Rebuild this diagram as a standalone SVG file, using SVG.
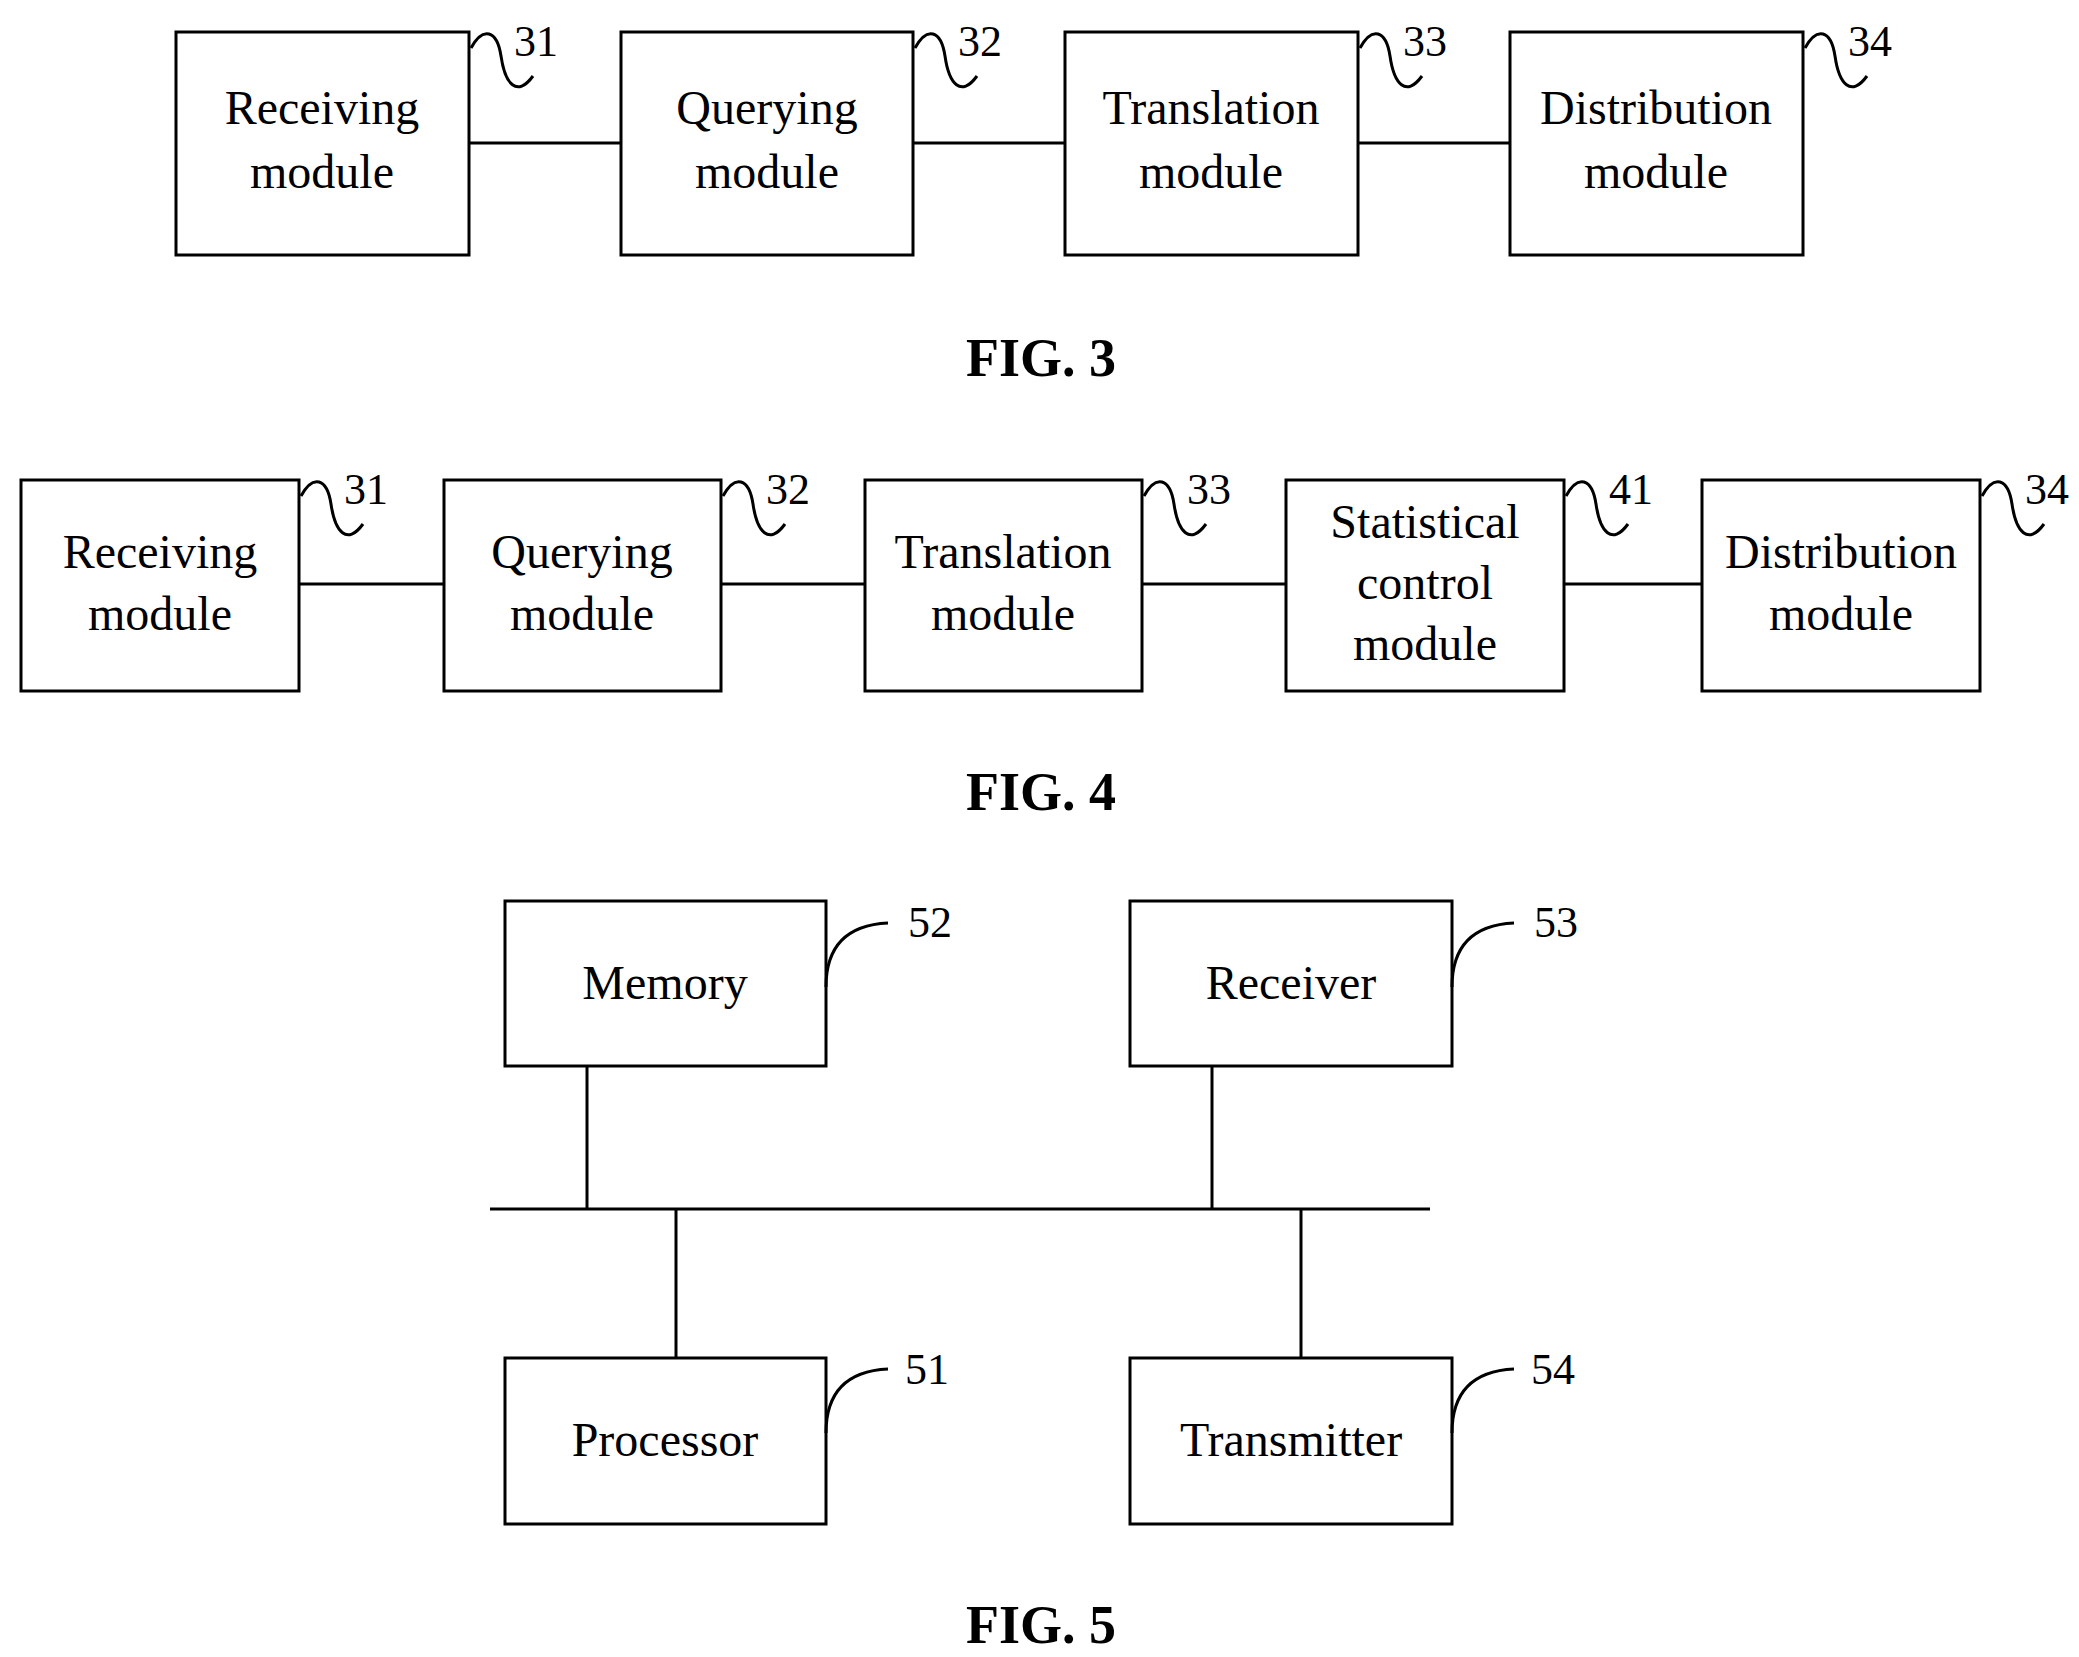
<svg xmlns="http://www.w3.org/2000/svg" width="2079" height="1657" viewBox="0 0 2079 1657">
<style>
rect{fill:#fff;stroke:#000;stroke-width:3}
path,line{fill:none;stroke:#000;stroke-width:3}
text{font-family:"Liberation Serif",serif;font-size:48px;text-anchor:middle;fill:#000}
.n{text-anchor:start;font-size:44px}
.f{font-weight:bold;font-size:54px}
</style>
<defs>
<path id="sq" d="M0,8 c12,-22 26,-18 30,8 c4,28 16,42 32,20"/>
<path id="cv" d="M0,66 c0,-40 20,-62 62,-64"/>
</defs>
<g id="connectors">
<line x1="469" y1="143" x2="621" y2="143"/><line x1="913" y1="143" x2="1065" y2="143"/><line x1="1358" y1="143" x2="1510" y2="143"/>
<line x1="299" y1="584" x2="444" y2="584"/><line x1="721" y1="584" x2="865" y2="584"/><line x1="1142" y1="584" x2="1286" y2="584"/><line x1="1564" y1="584" x2="1702" y2="584"/>
<line x1="490" y1="1209" x2="1430" y2="1209"/>
<line x1="587" y1="1066" x2="587" y2="1209"/><line x1="1212" y1="1066" x2="1212" y2="1209"/>
<line x1="676" y1="1209" x2="676" y2="1358"/><line x1="1301" y1="1209" x2="1301" y2="1358"/>
</g>
<g id="f3_31"><rect x="176" y="32" width="293" height="223"/><text x="322" y="124">Receiving</text><text x="322" y="188">module</text><use href="#sq" x="471" y="40"/><text class="n" x="514" y="56">31</text></g>
<g id="f3_32"><rect x="621" y="32" width="292" height="223"/><text x="767" y="124">Querying</text><text x="767" y="188">module</text><use href="#sq" x="915" y="40"/><text class="n" x="958" y="56">32</text></g>
<g id="f3_33"><rect x="1065" y="32" width="293" height="223"/><text x="1211" y="124">Translation</text><text x="1211" y="188">module</text><use href="#sq" x="1360" y="40"/><text class="n" x="1403" y="56">33</text></g>
<g id="f3_34"><rect x="1510" y="32" width="293" height="223"/><text x="1656" y="124">Distribution</text><text x="1656" y="188">module</text><use href="#sq" x="1805" y="40"/><text class="n" x="1848" y="56">34</text></g>
<text class="f" x="1041" y="376">FIG. 3</text>
<g id="f4_31"><rect x="21" y="480" width="278" height="211"/><text x="160" y="568">Receiving</text><text x="160" y="630">module</text><use href="#sq" x="301" y="488"/><text class="n" x="344" y="504">31</text></g>
<g id="f4_32"><rect x="444" y="480" width="277" height="211"/><text x="582" y="568">Querying</text><text x="582" y="630">module</text><use href="#sq" x="723" y="488"/><text class="n" x="766" y="504">32</text></g>
<g id="f4_33"><rect x="865" y="480" width="277" height="211"/><text x="1003" y="568">Translation</text><text x="1003" y="630">module</text><use href="#sq" x="1144" y="488"/><text class="n" x="1187" y="504">33</text></g>
<g id="f4_41"><rect x="1286" y="480" width="278" height="211"/><text x="1425" y="538">Statistical</text><text x="1425" y="599">control</text><text x="1425" y="660">module</text><use href="#sq" x="1566" y="488"/><text class="n" x="1609" y="504">41</text></g>
<g id="f4_34"><rect x="1702" y="480" width="278" height="211"/><text x="1841" y="568">Distribution</text><text x="1841" y="630">module</text><use href="#sq" x="1982" y="488"/><text class="n" x="2025" y="504">34</text></g>
<text class="f" x="1041" y="810">FIG. 4</text>
<g id="mem"><rect x="505" y="901" width="321" height="165"/><text x="665" y="999">Memory</text><use href="#cv" x="826" y="921"/><text class="n" x="908" y="937">52</text></g>
<g id="rcv"><rect x="1130" y="901" width="322" height="165"/><text x="1291" y="999">Receiver</text><use href="#cv" x="1452" y="921"/><text class="n" x="1534" y="937">53</text></g>
<g id="proc"><rect x="505" y="1358" width="321" height="166"/><text x="665" y="1456">Processor</text><use href="#cv" x="826" y="1367"/><text class="n" x="905" y="1384">51</text></g>
<g id="tx"><rect x="1130" y="1358" width="322" height="166"/><text x="1291" y="1456">Transmitter</text><use href="#cv" x="1452" y="1367"/><text class="n" x="1531" y="1384">54</text></g>
<text class="f" x="1041" y="1643">FIG. 5</text>
</svg>
